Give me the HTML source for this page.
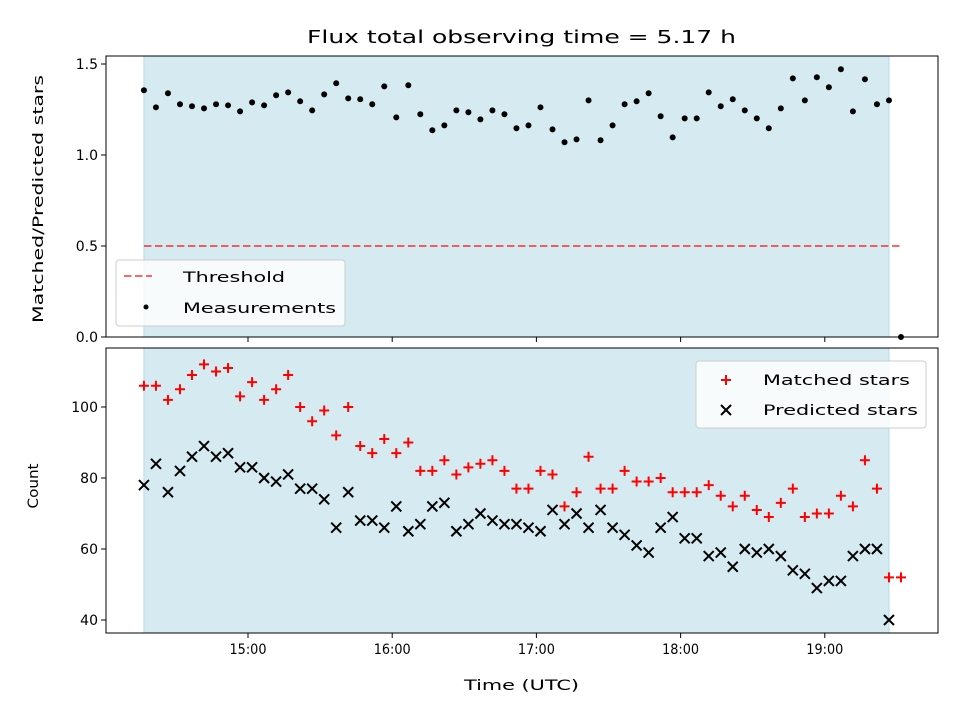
<!DOCTYPE html>
<html><head><meta charset="utf-8"><style>
body{margin:0;background:#fff}
svg{display:block;font-family:"DejaVu Sans","Liberation Sans",sans-serif}
</style></head><body>
<svg id="chart" width="960" height="720" viewBox="0 0 960 720" xmlns="http://www.w3.org/2000/svg"></svg>
<script>
const ratioValues = [1.356,1.262,1.339,1.279,1.268,1.256,1.279,1.273,1.240,1.289,1.273,1.328,1.344,1.295,1.245,1.333,1.394,1.311,1.306,1.279,1.377,1.207,1.383,1.224,1.136,1.163,1.245,1.235,1.196,1.245,1.224,1.147,1.163,1.262,1.141,1.070,1.086,1.300,1.081,1.163,1.279,1.295,1.339,1.213,1.097,1.201,1.201,1.344,1.268,1.306,1.245,1.201,1.147,1.256,1.421,1.300,1.427,1.372,1.471,1.240,1.416,1.279,1.300,0];
const matchedValues = [106,106,102,105,109,112,110,111,103,107,102,105,109,100,96,99,92,100,89,87,91,87,90,82,82,85,81,83,84,85,82,77,77,82,81,72,76,86,77,77,82,79,79,80,76,76,76,78,75,72,75,71,69,73,77,69,70,70,75,72,85,77,52,52];
const predictedValues = [78,84,76,82,86,89,86,87,83,83,80,79,81,77,77,74,66,76,68,68,66,72,65,67,72,73,65,67,70,68,67,67,66,65,71,67,70,66,71,66,64,61,59,66,69,63,63,58,59,55,60,59,60,58,54,53,49,51,51,58,60,60,40];
const startHour = 14 + 16.7/60;
const stepHours = 5/60;
const shadeStart = 14 + 16.7/60, shadeEnd = 14 + 16.7/60 + 62*5/60;
const thresholdValue = 0.5;
const xTickHours = [15,16,17,18,19];
const xTickLabels = ["15:00","16:00","17:00","18:00","19:00"];
const topYTicks = [0.0,0.5,1.0,1.5];
const topYLabels = ["0.0","0.5","1.0","1.5"];
const botYTicks = [40,60,80,100];

const svg = document.getElementById('chart');
const NS = 'http://www.w3.org/2000/svg';
function mk(tag, attrs, parent){const e=document.createElementNS(NS,tag);for(const k in attrs)e.setAttribute(k,attrs[k]);(parent||svg).appendChild(e);return e;}
const L=106,R=938;
const xs = h => 248 + (h-15)*144.2;
const yTop = v => 337 - v*182;
const yBot = v => 620 - (v-40)*3.55;
const tOf = i => startHour + i*stepHours;
const LA = 'spacingAndGlyphs';

mk('rect',{x:0,y:0,width:960,height:720,fill:'#fff'});
let t=mk('text',{x:307,y:43,'font-size':'17.5',textLength:429,lengthAdjust:LA,fill:'#000'});t.textContent='Flux total observing time = 5.17 h';


function panel(y0,y1,name){
  const g=mk('g',{});
  const s=mk('rect',{x:xs(shadeStart),y:y0,width:xs(shadeEnd)-xs(shadeStart),height:y1-y0,fill:'#d5ebf1',stroke:'#b8dbe8','stroke-width':1},g);
  
  return g;
}
function frame(y0,y1,g){mk('rect',{x:L,y:y0,width:R-L,height:y1-y0,fill:'none',stroke:'#000','stroke-width':1},g);}
function xticks(y1,labels,g){
  xTickHours.forEach((h,i)=>{const x=xs(h);mk('line',{x1:x,x2:x,y1:y1,y2:y1+5,stroke:'#000'},g);
    if(labels){const tx=mk('text',{x:x-18.5,y:y1+21,'font-size':'14',textLength:37,lengthAdjust:LA},g);tx.textContent=xTickLabels[i];
    }});
}
const gt=panel(56,337,'top-panel');
const th=mk('line',{x1:xs(tOf(0)),x2:xs(tOf(63)),y1:yTop(thresholdValue),y2:yTop(thresholdValue),stroke:'rgba(255,0,0,0.6)','stroke-width':2,'stroke-dasharray':'7.5,3.5'},gt);

ratioValues.forEach((v,i)=>{const c=mk('circle',{cx:xs(tOf(i)),cy:yTop(v),r:3,fill:'#000'},gt);
 });
frame(56,337,gt);xticks(337,false,gt);
topYTicks.forEach((v,i)=>{const y=yTop(v);mk('line',{x1:L-5,x2:L,y1:y,y2:y,stroke:'#000'},gt);
 const tx=mk('text',{x:L-8,y:y+5,'text-anchor':'end','font-size':'14'},gt);tx.textContent=topYLabels[i];
 });
let yl=mk('text',{x:-124,y:0,'font-size':'14.5',textLength:248,lengthAdjust:LA,transform:'translate(43,199) rotate(-90)'});yl.textContent='Matched/Predicted stars';

const lg=mk('g',{});
mk('rect',{x:116,y:260,width:229,height:66,rx:3,fill:'rgba(255,255,255,0.8)',stroke:'#ccc'},lg);
mk('line',{x1:124,x2:152,y1:276,y2:276,stroke:'rgba(255,0,0,0.6)','stroke-width':2,'stroke-dasharray':'7.5,3.5'},lg);
let lt=mk('text',{x:183,y:282,'font-size':'14.5',textLength:102,lengthAdjust:LA},lg);lt.textContent='Threshold';
mk('circle',{cx:146,cy:307,r:2.5,fill:'#000'},lg);
lt=mk('text',{x:183,y:313,'font-size':'14.5',textLength:153,lengthAdjust:LA},lg);lt.textContent='Measurements';

const gb=panel(348,633,'bottom-panel');
matchedValues.forEach((v,i)=>{const x=xs(tOf(i)),y=yBot(v);
 const p=mk('path',{d:`M${x-5},${y}H${x+5}M${x},${y-5}V${y+5}`,stroke:'#f00','stroke-width':2},gb);
 });
predictedValues.forEach((v,i)=>{const x=xs(tOf(i)),y=yBot(v);
 const p=mk('path',{d:`M${x-5},${y-5}L${x+5},${y+5}M${x-5},${y+5}L${x+5},${y-5}`,stroke:'#000','stroke-width':2},gb);
 });
frame(348,633,gb);xticks(633,true,gb);
botYTicks.forEach(v=>{const y=yBot(v);mk('line',{x1:L-5,x2:L,y1:y,y2:y,stroke:'#000'},gb);
 const tx=mk('text',{x:L-8,y:y+5,'text-anchor':'end','font-size':'14'},gb);tx.textContent=String(v);
 });
yl=mk('text',{x:-22.5,y:0,'font-size':'14.5',textLength:45,lengthAdjust:LA,transform:'translate(38,486) rotate(-90)'});yl.textContent='Count';

let xl=mk('text',{x:464,y:690,'font-size':'14.5',textLength:115,lengthAdjust:LA});xl.textContent='Time (UTC)';

const lb=mk('g',{});
mk('rect',{x:696,y:361,width:230,height:67,rx:3,fill:'rgba(255,255,255,0.8)',stroke:'#ccc'},lb);
mk('path',{d:'M721,380H731M726,375V385',stroke:'#f00','stroke-width':2},lb);
lt=mk('text',{x:763,y:385,'font-size':'14.5',textLength:147,lengthAdjust:LA},lb);lt.textContent='Matched stars';
mk('path',{d:'M721,405L731,415M721,415L731,405',stroke:'#000','stroke-width':2},lb);
lt=mk('text',{x:763,y:415,'font-size':'14.5',textLength:155,lengthAdjust:LA},lb);lt.textContent='Predicted stars';
</script>
</body></html>
